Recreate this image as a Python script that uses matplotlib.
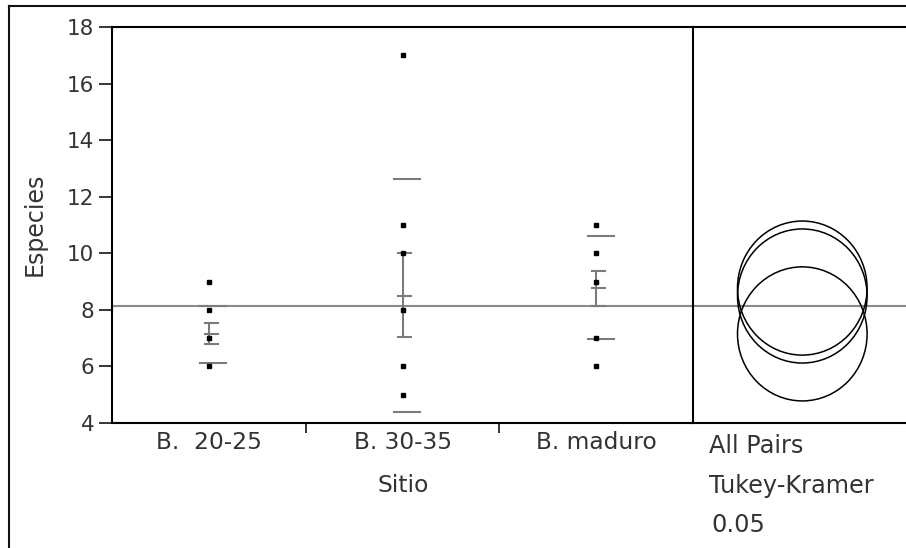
import matplotlib
matplotlib.use("Agg")
import matplotlib.pyplot as plt
from matplotlib.patches import Ellipse
from matplotlib.lines import Line2D

plt.rcParams['font.family'] = ['DejaVu Sans']

# ---- data ----
categories = ["B.  20-25", "B. 30-35", "B. maduro"]
points = [
    [9, 8, 7, 6],
    [17, 11, 10, 8, 6, 5],
    [11, 10, 9, 7, 6],
]
means = [7.15, 8.49, 8.77]
ci_low = [6.79, 7.03, 8.15]
ci_high = [7.52, 10.0, 9.37]
sd_low = [6.11, 4.38, 6.96]
sd_high = [8.15, 12.64, 10.61]
grand_mean = 8.13
circle_radius = 2.37
y_ticks = [4, 6, 8, 10, 12, 14, 16, 18]
x_title = "Sitio"
y_title = "Especies"
test_lines = ["All Pairs", "Tukey-Kramer", "0.05"]

W, H = 906, 548
fig = plt.figure(figsize=(W / 100, H / 100), dpi=100)
fig.patch.set_facecolor("white")

def fx(px):
    return px / W

def fy(py):
    return 1 - py / H

# main axes: x 112..693, y 27..423 px
ax = fig.add_axes([fx(112), fy(423), fx(693 - 112), (423 - 27) / H])
# right panel 693..906+
panel_w = W - 693 + 6
ax2 = fig.add_axes([fx(693), fy(423), fx(panel_w), (423 - 27) / H])
ax2.patch.set_alpha(0)
ax.set_zorder(2)
ax.patch.set_alpha(0)

GREY = "#7b7b7b"
TXT = "#333333"
lw_frame = 1.5

ax.set_xlim(0.5, len(categories) + 0.5)
ax.set_ylim(4, 18)
for s in ax.spines.values():
    s.set_linewidth(lw_frame)
    s.set_color("black")

ax.set_yticks(y_ticks)
ax.set_yticklabels([str(t) for t in y_ticks])
ax.tick_params(axis="y", direction="out", length=9.4, width=1.1, pad=3.3,
               labelsize=15.5, colors="black")
ax.tick_params(axis="y", labelcolor=TXT)

# category boundary ticks (major) and labels (minor)
ax.set_xticks([i + 1.5 for i in range(len(categories) - 1)])
ax.set_xticklabels([])
ax.tick_params(axis="x", which="major", direction="out", length=7.2, width=1.1)
ax.set_xticks([i + 1 for i in range(len(categories))], minor=True)
ax.set_xticklabels(categories, minor=True)
ax.tick_params(axis="x", which="minor", length=0, pad=6.0, labelsize=16.8,
               labelcolor=TXT)

# grand mean line
ax.axhline(grand_mean, color="#8a8a8a", lw=1.5, zorder=1)

cap_l, cap_r = 0.021, 0.046
sd_l, sd_r = 0.044, 0.090
for i, cat in enumerate(categories):
    x = i + 1
    ax.plot([x] * len(points[i]), points[i], ls="none", marker="s", ms=2.9,
            color="black", zorder=4)
    # SD lines
    for v in (sd_low[i], sd_high[i]):
        ax.plot([x - sd_l, x + sd_r], [v, v], color=GREY, lw=1.5, zorder=3)
    # error bar
    ax.plot([x, x], [ci_low[i], ci_high[i]], color=GREY, lw=1.5, zorder=3)
    for v in (ci_low[i], means[i], ci_high[i]):
        ax.plot([x - cap_l, x + cap_r], [v, v], color=GREY, lw=1.5, zorder=3)

# right panel: comparison circles
ax2.set_xlim(0, panel_w)
ax2.set_ylim(4, 18)
ax2.set_xticks([])
ax2.set_yticks([])
ax2.spines["left"].set_visible(False)
ax2.spines["right"].set_visible(False)
for s in ("top", "bottom"):
    ax2.spines[s].set_linewidth(lw_frame)
    ax2.spines[s].set_color("black")
ax2.axhline(grand_mean, color="#8a8a8a", lw=1.5, zorder=1)
circle_w_px = 129.6
for m in means:
    e = Ellipse((109.3, m), width=circle_w_px,
                height=2 * circle_radius, fill=False, edgecolor="black",
                lw=1.1, zorder=3)
    ax2.add_patch(e)

# titles
fig.text(fx(403), fy(492.5), x_title, ha="center", va="baseline",
         fontsize=16.8, color=TXT)
fig.text(fx(35), fy(224), y_title, ha="center", va="center", rotation=90,
         fontsize=17, color=TXT)
for txt, base, left in zip(test_lines, [453.3, 493.3, 531.7], [709, 709, 711.5]):
    fig.text(fx(left), fy(base), txt, ha="left", va="baseline", fontsize=17.3,
             color=TXT)

# outer border
fig.add_artist(Line2D([fx(9), fx(9)], [fy(6), -0.01], transform=fig.transFigure,
                      color="#111111", lw=1.5))
fig.add_artist(Line2D([fx(9), 1.01], [fy(6), fy(6)], transform=fig.transFigure,
                      color="#111111", lw=1.5))

fig.savefig("out.png", dpi=100)
